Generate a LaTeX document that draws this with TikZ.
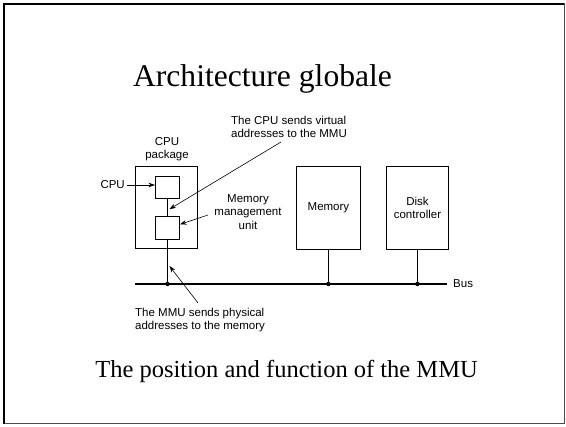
\documentclass[tikz,border=0pt]{standalone}
\usepackage{fontspec}
\setmainfont{Liberation Serif}
\newfontfamily\helv{Liberation Sans}
\usetikzlibrary{arrows.meta,calc}
\begin{document}
\begin{tikzpicture}[x=1pt,y=-1pt,
  box/.style={draw,line width=0.9pt,inner sep=0pt,anchor=north west,align=center,
    font=\helv\fontsize{11.5}{13.5}\selectfont},
  lbl/.style={inner sep=0pt,align=center,font=\helv\fontsize{11.5}{13.5}\selectfont},
  wire/.style={line width=1.3pt},
  ptr/.style={line width=0.6pt,-{Stealth[length=6.5pt,width=4.5pt]}},
  dot/.style={circle,fill,inner sep=0pt,minimum size=4.5pt}]
\useasboundingbox (0,0) rectangle (566,427);
% frame
\draw[black!70,line width=1pt] (4,4) rectangle (564.5,423.5);
\draw[line width=1.8pt] (4,424) -- (4,4) -- (564,4);
% titles
\node[inner sep=0pt,anchor=base,font=\fontsize{31.6}{36}\selectfont] (title) at (262.5,87) {Architecture globale};
\node[inner sep=0pt,anchor=base,font=\fontsize{24.5}{28}\selectfont] (caption) at (286.5,378) {The position and function of the MMU};
% boxes
\node[box,minimum width=62pt,minimum height=82pt] (pkg) at (135,166) {};
\node[box,minimum width=24pt,minimum height=22pt] (cpu) at (155,176) {};
\node[box,minimum width=24pt,minimum height=23pt] (mmu) at (155,216) {};
\node[box,minimum width=64pt,minimum height=83pt] (mem) at (296,166) {Memory};
\node[box,minimum width=62pt,minimum height=83pt] (disk) at (386,166) {Disk\\controller};
% bus
\coordinate (busL) at (135,284);
\node[lbl,anchor=west] (bus) at (453,284) {Bus};
\draw[wire] (busL) -- ([xshift=-6pt]bus.west);
\node[dot] (j1) at (mmu.south |- busL) {};
\node[dot] (j2) at (mem.south |- busL) {};
\node[dot] (j3) at (disk.south |- busL) {};
\draw[wire] (cpu.south) -- (mmu.north);
\draw[wire] (mmu.south) -- (j1.center);
\draw[wire] (mem.south) -- (j2.center);
\draw[wire] (disk.south) -- (j3.center);
% labels
\node[lbl] (pkglbl) at (167,149) {CPU\\package};
\node[lbl,anchor=east] (cpulbl) at (125,185) {CPU};
\draw[ptr] ([xshift=2pt]cpulbl.east) -- (cpu.west |- cpulbl.east);
\node[lbl,align=left] (t1) at (289,127) {The CPU sends virtual\\addresses to the MMU};
\coordinate (a1) at (281,142);
\draw[ptr] (a1) -- ([xshift=2pt]$(cpu.south)!0.6!(mmu.north)$);
\node[lbl] (mmulbl) at (248,212) {Memory\\management\\unit};
\coordinate (a2) at (208,215);
\draw[ptr] (a2) -- ([yshift=3.5pt]mmu.east);
\node[lbl,align=left,anchor=west] (t2) at (135,320) {The MMU sends physical\\addresses to the memory};
\coordinate (a3) at (198,303);
\draw[ptr] (a3) -- ([xshift=2pt,yshift=18pt]j1.center);
\end{tikzpicture}
\end{document}
